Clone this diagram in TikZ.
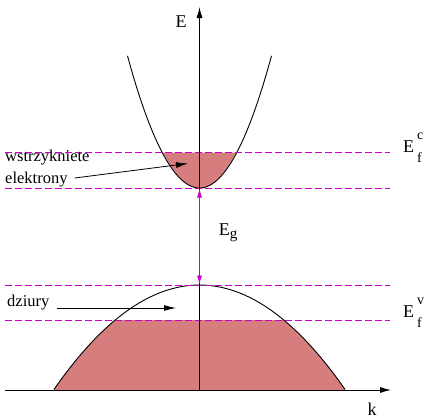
\documentclass[tikz,border=0pt]{standalone}
\usepackage{fontspec}
\setmainfont{Liberation Serif}
\usepackage{tikz}
\usetikzlibrary{arrows.meta, positioning, calc}
\definecolor{mydark}{RGB}{0,0,0}
\definecolor{mymagenta}{RGB}{200,0,200}
\definecolor{bandfill}{RGB}{214,126,126}
\tikzset{
  axis/.style={-{Latex[length=11pt,width=6pt]}, line width=0.9pt, color=mydark},
  band/.style={line width=0.9pt, color=mydark},
  fermi/.style={dash pattern=on 6.5pt off 3.5pt, line width=1pt, color=mymagenta},
  gaparrow/.style={{Latex[length=9pt,width=5pt]}-{Latex[length=9pt,width=5pt]}, line width=0.9pt, color=mymagenta},
  notearrow/.style={-{Latex[length=12pt,width=6pt]}, line width=0.8pt, color=mydark},
  note/.style={font=\fontsize{16.5}{19}\selectfont, inner sep=1pt, align=left},
  biglabel/.style={font=\fontsize{18}{20}\selectfont, inner sep=1pt}
}
\newcommand{\fermilabel}[1]{E\kern3pt\rlap{\raisebox{13pt}{\fontsize{14}{14}\selectfont #1}}\raisebox{-10pt}{\fontsize{14}{14}\selectfont f}}

\begin{document}
\begin{tikzpicture}[x=1pt, y=-1pt, >=Latex]
  \useasboundingbox (0,0) rectangle (430,418);

  % Filled states
  \fill[bandfill] plot[domain=-36.6:36.6, variable=\t, samples=60]
    ({199.5+\t},{188-0.0265*\t*\t}) -- cycle;
  \begin{scope}
    \clip (0,320.5) rectangle (430,390);
    \fill[bandfill] plot[domain=-150:150, variable=\t, samples=80]
      ({199.5+\t},{285+0.493*(\t/10)*(\t/10)});
  \end{scope}

  % Bands
  \draw[band] plot[domain=-72:72, variable=\t, samples=80]
    ({199.5+\t},{188-0.0255*\t*\t});
  \draw[band] plot[domain=-145.5:145.5, variable=\t, samples=80]
    ({199.5+\t},{285+0.493*(\t/10)*(\t/10)});

  % Fermi levels
  \foreach \lev/\name in {152.5/cup, 188/cdown, 285/vup, 320.5/vdown} {
    \coordinate (\name-l) at (5,\lev);
    \coordinate (\name-r) at (390,\lev);
    \draw[fermi] (\name-l) -- (\name-r);
  }
  \node[biglabel, anchor=base west] (efc) at (402,152) {\fermilabel{c}};
  \node[biglabel, anchor=base west] (efv) at (402,317) {\fermilabel{v}};

  % Axes
  \coordinate (korigin) at (5,390);
  \coordinate (kend) at (391,390);
  \coordinate (eorigin) at (199.5,390);
  \coordinate (eend) at (199.5,7);
  \draw[axis] (korigin) -- (kend);
  \draw[axis] (eorigin) -- (eend);
  \node[biglabel] (klabel) at (372,409) {k};
  \node[biglabel] (elabel) at (181,22) {E};

  % Gap
  \coordinate (cbmin) at (199.5,188.5);
  \coordinate (vbmax) at (199.5,284.5);
  \draw[gaparrow] (cbmin) -- (vbmax);
  \node[biglabel] (eg) at (228,233) {E\raisebox{-0.35ex}{\fontsize{15}{15}\selectfont g}};

  % Notes
  \node[note, anchor=west] (wstrz) at (4,158) {wstrzykniete};
  \node[note, anchor=west] (elek) at (4,180) {elektrony};
  \node[note, anchor=west] (dziury) at (6,303) {dziury};
  \coordinate (elektip) at (188,163.5);
  \coordinate (dziurytip) at (176,308);
  \draw[notearrow] ($(elek.east)+(6,-2)$) -- (elektip);
  \draw[notearrow] (dziury.east |- dziurytip) ++(6,0) -- (dziurytip);
\end{tikzpicture}
\end{document}
